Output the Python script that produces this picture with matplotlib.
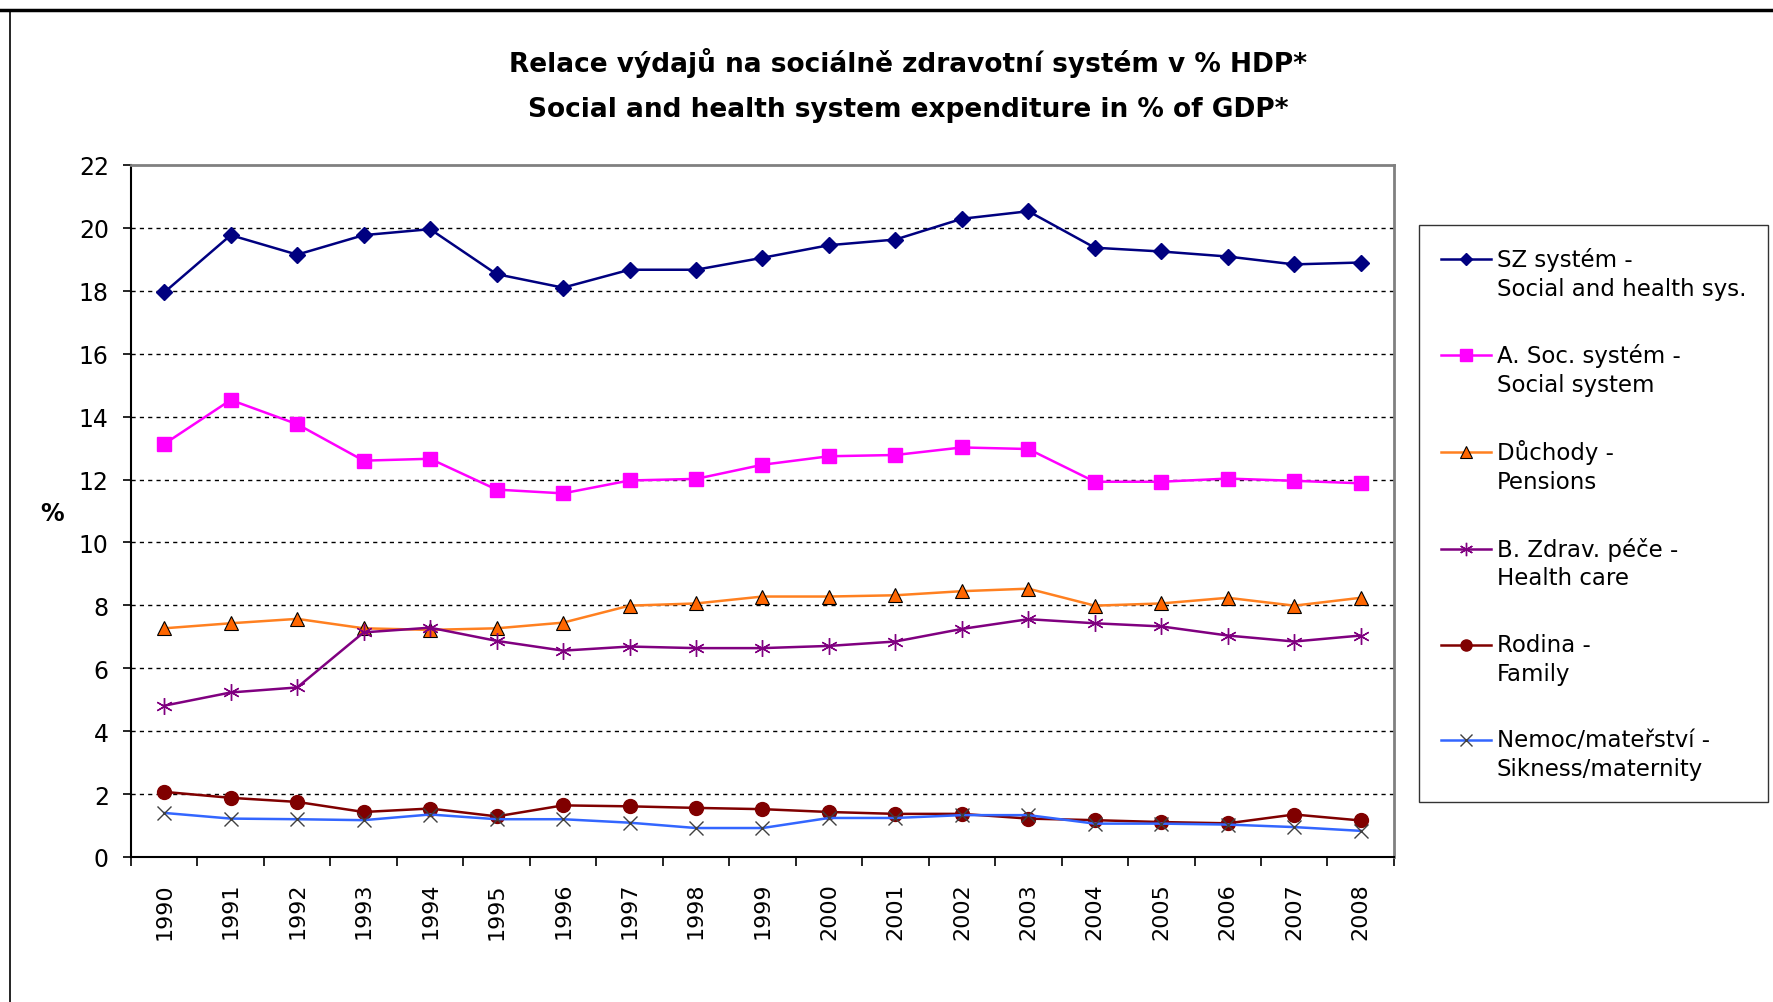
import matplotlib
matplotlib.use("Agg")
import matplotlib.pyplot as plt
from matplotlib.lines import Line2D
from matplotlib.legend_handler import HandlerLine2D

years = [str(y) for y in range(1990, 2009)]

sz_system = [17.95, 19.77, 19.15, 19.77, 19.96, 18.53, 18.10, 18.67, 18.67, 19.05,
             19.45, 19.63, 20.29, 20.53, 19.37, 19.25, 19.09, 18.84, 18.90]
soc_system = [13.13, 14.53, 13.76, 12.60, 12.66, 11.68, 11.56, 11.97, 12.02, 12.47,
              12.74, 12.78, 13.02, 12.97, 11.93, 11.93, 12.03, 11.96, 11.88]
pensions = [7.27, 7.43, 7.57, 7.27, 7.22, 7.27, 7.45, 7.99, 8.06, 8.28,
            8.28, 8.32, 8.45, 8.53, 7.99, 8.06, 8.24, 7.99, 8.24]
health_care = [4.81, 5.23, 5.39, 7.14, 7.29, 6.87, 6.56, 6.69, 6.64, 6.64,
               6.71, 6.85, 7.25, 7.56, 7.43, 7.33, 7.04, 6.85, 7.04]
family = [2.07, 1.88, 1.75, 1.43, 1.54, 1.29, 1.64, 1.61, 1.56, 1.52,
          1.43, 1.37, 1.37, 1.22, 1.17, 1.11, 1.07, 1.35, 1.16]
sickness = [1.40, 1.22, 1.20, 1.17, 1.35, 1.20, 1.20, 1.09, 0.92, 0.92,
            1.24, 1.24, 1.33, 1.33, 1.06, 1.06, 1.03, 0.95, 0.83]

labels = [
    "SZ systém -\nSocial and health sys.",
    "A. Soc. systém -\nSocial system",
    "Důchody -\nPensions",
    "B. Zdrav. péče -\nHealth care",
    "Rodina -\nFamily",
    "Nemoc/mateřství -\nSikness/maternity",
]

LINESPACING = 1.32


class FirstLineHandler(HandlerLine2D):
    # put the legend key next to the first text line, like Excel does
    def create_artists(self, legend, orig_handle, xdescent, ydescent,
                       width, height, fontsize, trans):
        arts = super().create_artists(legend, orig_handle, xdescent, ydescent,
                                      width, height, fontsize, trans)
        for a in arts:
            a.set_ydata([y + 0.5 * LINESPACING * fontsize for y in a.get_ydata()])
        return arts


plt.rcParams['font.family'] = ['DejaVu Sans']

fig = plt.figure(figsize=(17.73, 10.03), dpi=100)
ax = fig.add_axes([0.0739, 0.1446, 0.7123, 0.6899])

x = list(range(len(years)))
lw = 1.8
ax.plot(x, sz_system, color='#000080', lw=lw, marker='D', ms=8, label=labels[0])
ax.plot(x, soc_system, color='#FF00FF', lw=lw, marker='s', ms=10, label=labels[1])
ax.plot(x, pensions, color='#FF8020', lw=lw, marker='^', ms=10,
        mfc='#FF6600', mec='black', mew=0.8, label=labels[2])
ax.plot(x, health_care, color='#800080', lw=lw, marker=(6, 2, 0), ms=12,
        mew=1.0, label=labels[3])
ax.plot(x, family, color='#800000', lw=lw, marker='o', ms=10, label=labels[4])
ax.plot(x, sickness, color='#3366FF', lw=lw, marker='x', ms=10,
        mec='#404040', mew=1.0, label=labels[5])

ax.set_xlim(-0.5, len(years) - 0.5)
ax.set_ylim(0, 22)
ax.set_yticks(range(0, 23, 2))
ax.tick_params(axis='y', labelsize=17, direction='out', length=6, width=1.2, pad=10)
ax.set_xticks([i - 0.5 for i in range(len(years) + 1)])
ax.set_xticklabels([])
ax.set_xticks(x, minor=True)
ax.set_xticklabels(years, minor=True, rotation=90, fontsize=16)
ax.tick_params(axis='x', which='major', direction='out', length=6.5, width=1.2)
ax.tick_params(axis='x', which='minor', length=0, pad=18)

for v in range(2, 22, 2):
    ax.axhline(v, color='black', lw=1.0, ls=(0, (3, 3)), zorder=0)

for side in ['top', 'right']:
    ax.spines[side].set_color('#808080')
    ax.spines[side].set_linewidth(2)
for side in ['left', 'bottom']:
    ax.spines[side].set_color('black')
    ax.spines[side].set_linewidth(1.5)

ax.set_ylabel('%', fontsize=17, fontweight='bold', rotation=0, va='center', ha='center')
ax.yaxis.set_label_coords(-0.0625, 0.497)

fig.text(0.512, 0.937, "Relace výdajů na sociálně zdravotní systém v % HDP*",
         ha='center', va='center', fontsize=19, fontweight='bold')
fig.text(0.512, 0.890, "Social and health system expenditure in % of GDP*",
         ha='center', va='center', fontsize=19, fontweight='bold')

leg = fig.legend(loc='upper left', bbox_to_anchor=(0.8003, 0.7747), fontsize=16.5,
                 frameon=True, fancybox=False, edgecolor='black',
                 handlelength=2.2, labelspacing=1.9, borderpad=0.95,
                 handletextpad=0.25, markerscale=0.8, borderaxespad=0,
                 handler_map={Line2D: FirstLineHandler()})
for t in leg.get_texts():
    t.set_linespacing(LINESPACING)
leg.get_frame().set_linewidth(1.0)

fig.add_artist(Line2D([0.0, 1.0], [0.989, 0.989], color='black', lw=2.5,
                      transform=fig.transFigure))
fig.add_artist(Line2D([0.0056, 0.0056], [0.0, 0.989], color='black', lw=1.2,
                      transform=fig.transFigure))

fig.savefig('out.png', dpi=100)
